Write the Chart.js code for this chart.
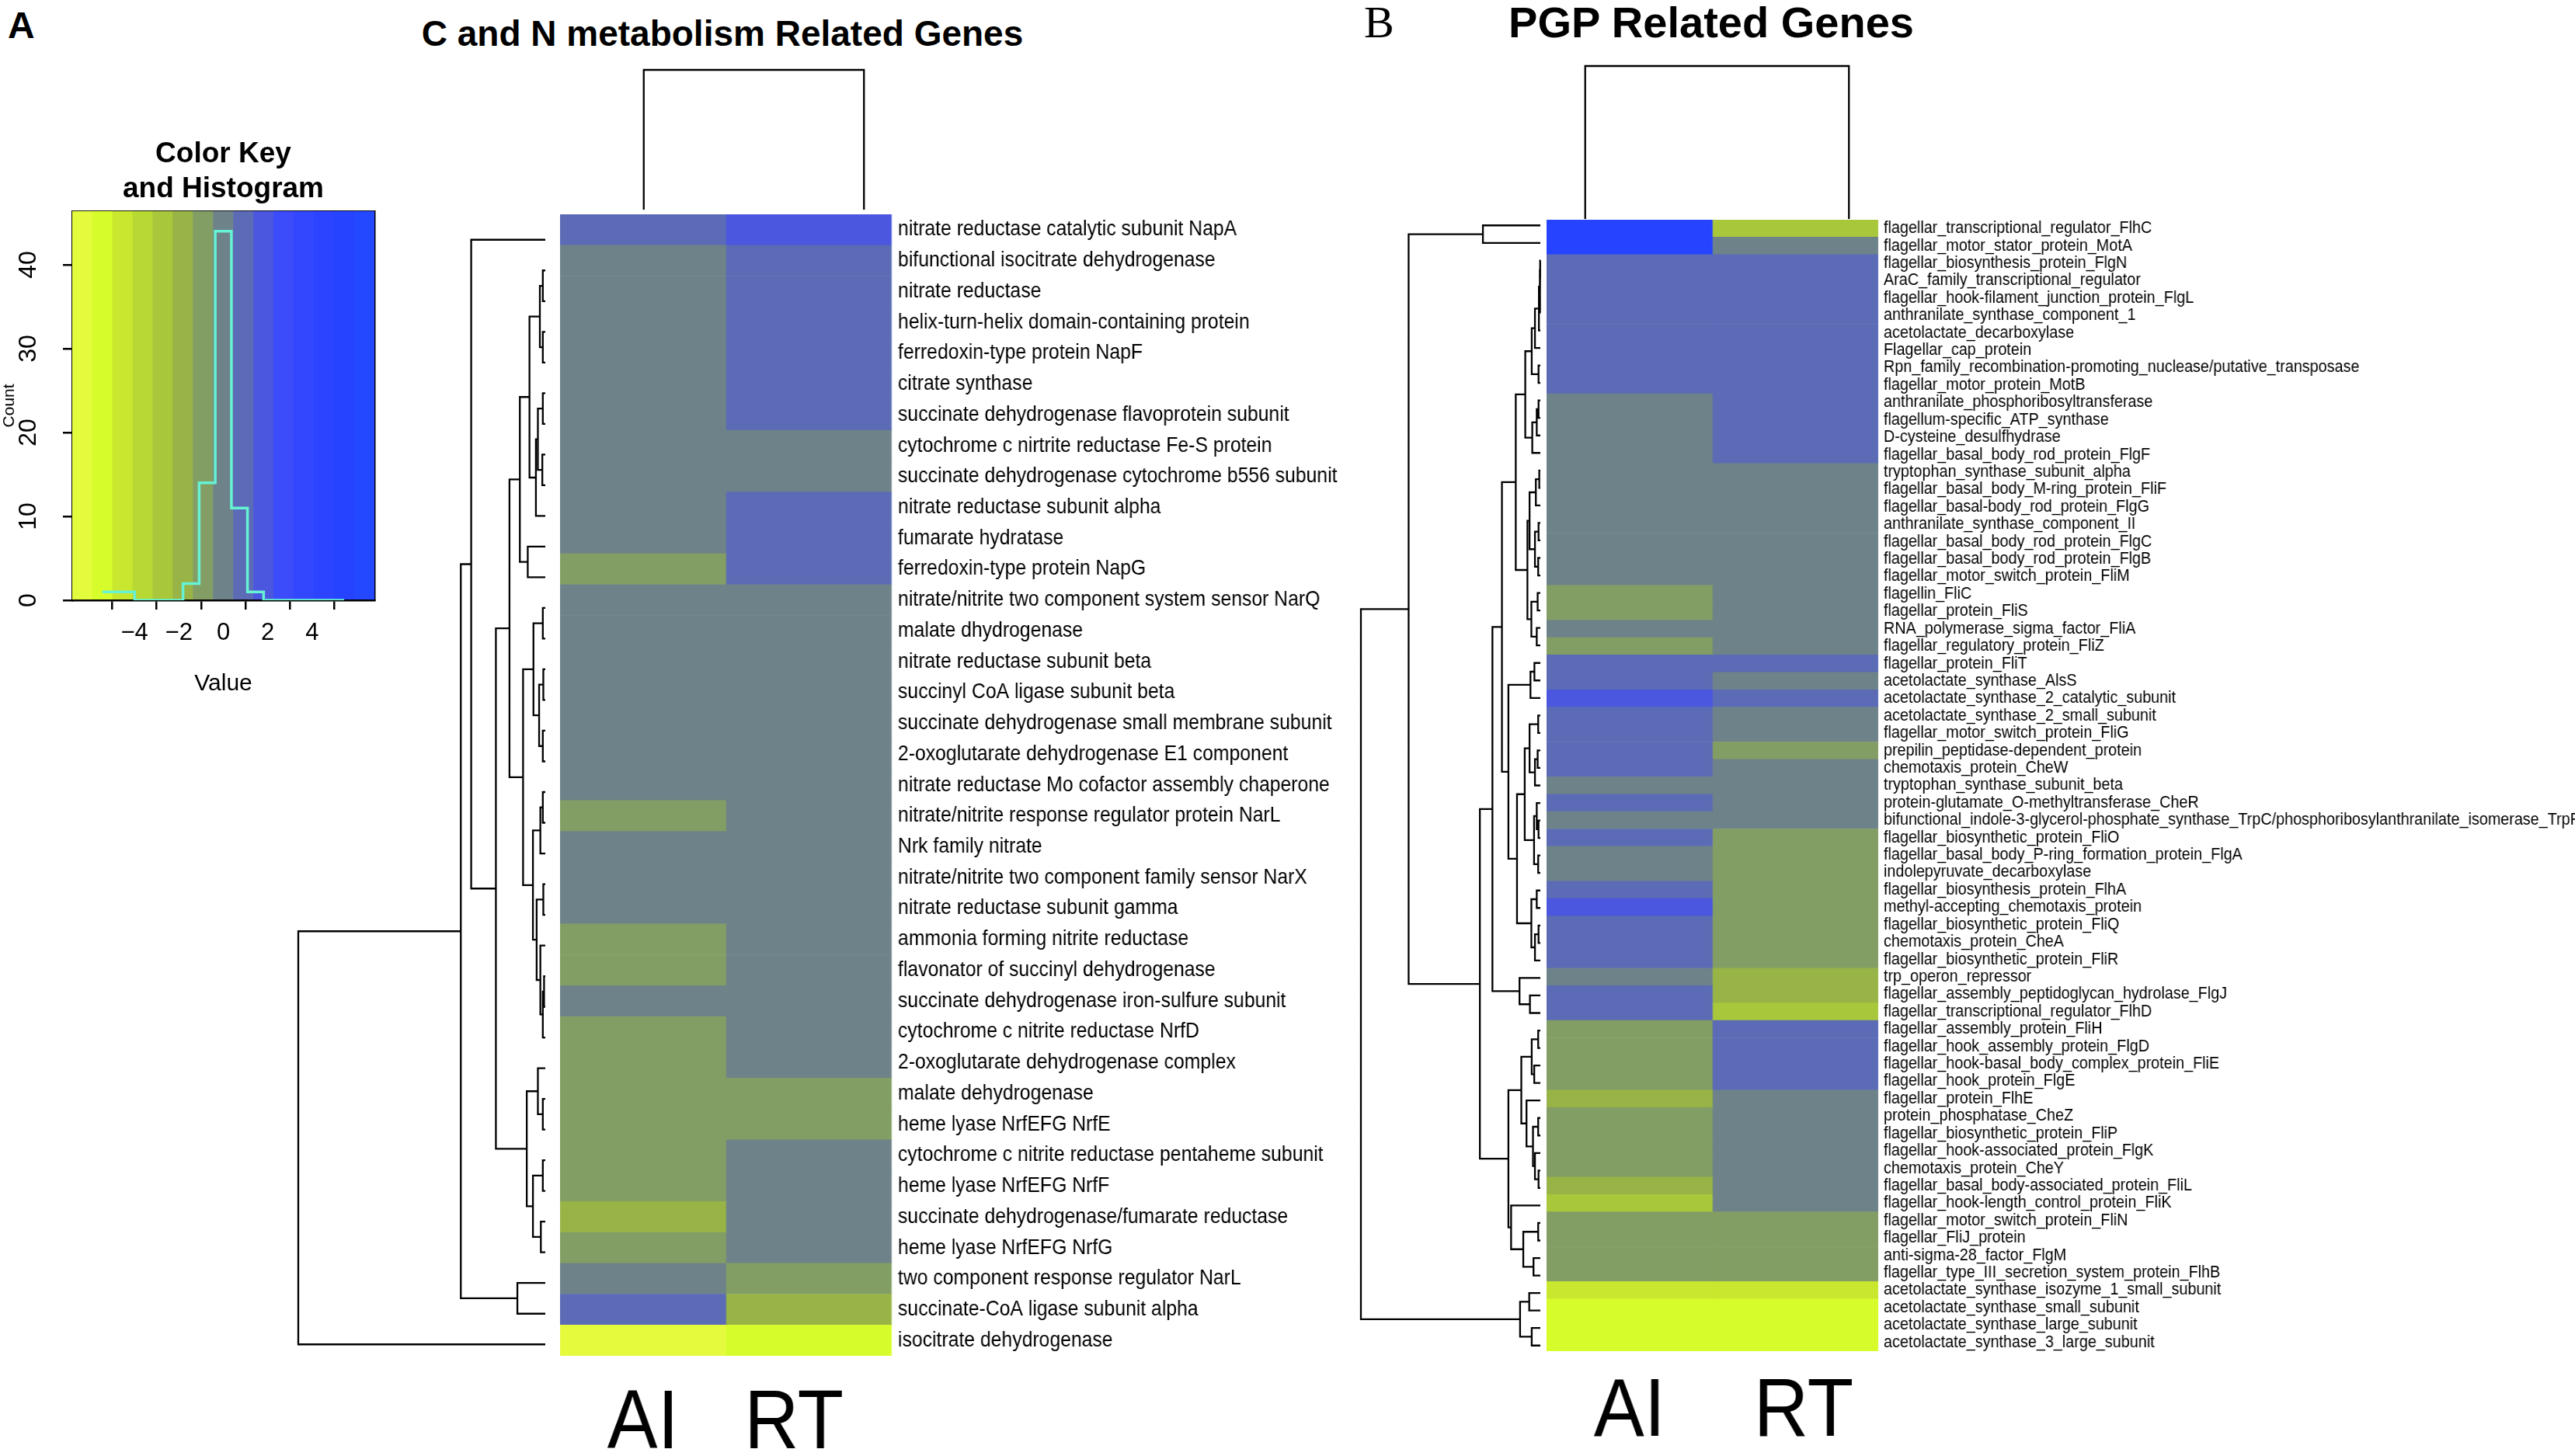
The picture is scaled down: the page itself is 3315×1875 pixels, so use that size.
<!DOCTYPE html>
<html>
<head>
<meta charset="utf-8">
<title>C and N metabolism / PGP Related Genes</title>
<script src="https://cdn.jsdelivr.net/npm/chart.js@4.4.1/dist/chart.umd.min.js"></script>
<style>
  html, body { margin: 0; padding: 0; background: #fff; }
  #page { position: relative; width: 3315px; height: 1875px; overflow: hidden; background: #fff; }
  #page canvas { position: absolute; }
  .lbl { position: absolute; white-space: nowrap; line-height: 1; color: #000; }
</style>
</head>
<body>
<div id="page">
  <div class="lbl" style="left:10px; top:5px; font:bold 48px 'Liberation Sans', Arial, sans-serif;">A</div>
  <div class="lbl" style="left:330px; top:16px; width:1200px; text-align:center; font:bold 46px 'Liberation Sans', Arial, sans-serif;">C and N metabolism Related Genes</div>
  <div class="lbl" style="left:1756px; top:-5px; font:58px 'Liberation Serif', 'Times New Roman', serif;">B</div>
  <div class="lbl" style="left:1703px; top:-4px; width:1000px; text-align:center; font:bold 56px 'Liberation Sans', Arial, sans-serif;">PGP Related Genes</div>
</div>
<script>
// ---- colour key: 15 breaks from yellow (low) to blue (high)
const keyBreaks = [-5.44, -4.715, -3.989, -3.264, -2.539, -1.813, -1.088, -0.363,
                   0.363, 1.088, 1.813, 2.539, 3.264, 3.989, 4.715, 5.44];
const keyColors = ['#e4fb3d', '#d6fd2b', '#c8e72e', '#b8d834', '#a9c73b', '#98b446', '#839e64',
                   '#6e8389', '#5b6bb6', '#4a57de', '#3c4cfb', '#3347ff', '#2c44ff', '#2644ff', '#2448ff'];
const keyXTicks = [-4, -2, 0, 2, 4];
const keyYTicks = [0, 10, 20, 30, 40];
const KEY_YMAX = 46.4;

const columns = ['AI', 'RT'];

// ---- panel A: C and N metabolism
const genesA = [
  'nitrate reductase catalytic subunit NapA',
  'bifunctional isocitrate dehydrogenase',
  'nitrate reductase',
  'helix-turn-helix domain-containing protein',
  'ferredoxin-type protein NapF',
  'citrate synthase',
  'succinate dehydrogenase flavoprotein subunit',
  'cytochrome c nirtrite reductase Fe-S protein',
  'succinate dehydrogenase cytochrome b556 subunit',
  'nitrate reductase subunit alpha',
  'fumarate hydratase',
  'ferredoxin-type protein NapG',
  'nitrate/nitrite two component system sensor NarQ',
  'malate dhydrogenase',
  'nitrate reductase subunit beta',
  'succinyl CoA ligase subunit beta',
  'succinate dehydrogenase small membrane subunit',
  '2-oxoglutarate dehydrogenase E1 component',
  'nitrate reductase Mo cofactor assembly chaperone',
  'nitrate/nitrite response regulator protein NarL',
  'Nrk family nitrate',
  'nitrate/nitrite two component family sensor NarX',
  'nitrate reductase subunit gamma',
  'ammonia forming nitrite reductase',
  'flavonator of succinyl dehydrogenase',
  'succinate dehydrogenase iron-sulfure subunit',
  'cytochrome c nitrite reductase NrfD',
  '2-oxoglutarate dehydrogenase complex',
  'malate dehydrogenase',
  'heme lyase NrfEFG NrfE',
  'cytochrome c nitrite reductase pentaheme subunit',
  'heme lyase NrfEFG NrfF',
  'succinate dehydrogenase/fumarate reductase',
  'heme lyase NrfEFG NrfG',
  'two component response regulator NarL',
  'succinate-CoA ligase subunit alpha',
  'isocitrate dehydrogenase'
];
const aiA = [0.78, 0.12, 0.05, 0.09, -0.04, 0.15, 0.02, 0.21, -0.1, 0.08, 0.18, -0.82, 0.03,
             -0.12, 0.06, 0.1, -0.2, 0.14, -0.07, -0.76, 0.01, -0.15, 0.11, -0.88, -0.79, 0.27,
             -0.85, -0.72, -0.9, -0.81, -0.77, -0.84, -1.55, -0.95, -0.06, 0.82, -4.95];
const rtA = [1.52, 0.85, 0.92, 0.77, 0.88, 0.81, 0.95, 0.04, -0.11, 0.79, 0.86, 0.9, 0.13,
             -0.02, 0.07, -0.18, 0.22, 0.05, -0.09, 0.16, -0.14, 0.02, 0.19, -0.23, 0.08, -0.3,
             0.11, 0.25, -0.83, -0.78, 0.06, -0.1, 0.17, 0.2, -0.8, -1.6, -4.3];
// row dendrogram: [height, left, right], leaves are row numbers
const treeA = [10,
  [3.42,
    [3.0, 1,
      [2.0,
        [1.45,
          [1.03,
            [0.64,
              [0.22, [0.1, 2, 3], [0.1, 4, 5]],
              [0.38, [0.3, [0.1, 6, 7], [0.12, 8, 9]], 10]],
            [0.71, 11, 12]],
          [0.9,
            [0.48, [0.1, 13, 14], [0.25, [0.08, 15, 16], [0.1, 17, 18]]],
            [0.5,
              [0.2, [0.1, 19, 20], 21],
              [0.35, [0.08, 22, 23], [0.2, 24, [0.1, [0.05, 25, 26], 27]]]]]],
        [0.75,
          [0.3, 28, [0.1, 29, 30]],
          [0.5, [0.1, 31, 32], [0.18, 33, 34]]]]],
    [1.13, 35, 36]],
  37];
const colTreeA = [1, 1, 2];

// ---- panel B: PGP related genes
const genesB = [
  'flagellar_transcriptional_regulator_FlhC',
  'flagellar_motor_stator_protein_MotA',
  'flagellar_biosynthesis_protein_FlgN',
  'AraC_family_transcriptional_regulator',
  'flagellar_hook-filament_junction_protein_FlgL',
  'anthranilate_synthase_component_1',
  'acetolactate_decarboxylase',
  'Flagellar_cap_protein',
  'Rpn_family_recombination-promoting_nuclease/putative_transposase',
  'flagellar_motor_protein_MotB',
  'anthranilate_phosphoribosyltransferase',
  'flagellum-specific_ATP_synthase',
  'D-cysteine_desulfhydrase',
  'flagellar_basal_body_rod_protein_FlgF',
  'tryptophan_synthase_subunit_alpha',
  'flagellar_basal_body_M-ring_protein_FliF',
  'flagellar_basal-body_rod_protein_FlgG',
  'anthranilate_synthase_component_II',
  'flagellar_basal_body_rod_protein_FlgC',
  'flagellar_basal_body_rod_protein_FlgB',
  'flagellar_motor_switch_protein_FliM',
  'flagellin_FliC',
  'flagellar_protein_FliS',
  'RNA_polymerase_sigma_factor_FliA',
  'flagellar_regulatory_protein_FliZ',
  'flagellar_protein_FliT',
  'acetolactate_synthase_AlsS',
  'acetolactate_synthase_2_catalytic_subunit',
  'acetolactate_synthase_2_small_subunit',
  'flagellar_motor_switch_protein_FliG',
  'prepilin_peptidase-dependent_protein',
  'chemotaxis_protein_CheW',
  'tryptophan_synthase_subunit_beta',
  'protein-glutamate_O-methyltransferase_CheR',
  'bifunctional_indole-3-glycerol-phosphate_synthase_TrpC/phosphoribosylanthranilate_isomerase_TrpF',
  'flagellar_biosynthetic_protein_FliO',
  'flagellar_basal_body_P-ring_formation_protein_FlgA',
  'indolepyruvate_decarboxylase',
  'flagellar_biosynthesis_protein_FlhA',
  'methyl-accepting_chemotaxis_protein',
  'flagellar_biosynthetic_protein_FliQ',
  'chemotaxis_protein_CheA',
  'flagellar_biosynthetic_protein_FliR',
  'trp_operon_repressor',
  'flagellar_assembly_peptidoglycan_hydrolase_FlgJ',
  'flagellar_transcriptional_regulator_FlhD',
  'flagellar_assembly_protein_FliH',
  'flagellar_hook_assembly_protein_FlgD',
  'flagellar_hook-basal_body_complex_protein_FliE',
  'flagellar_hook_protein_FlgE',
  'flagellar_protein_FlhE',
  'protein_phosphatase_CheZ',
  'flagellar_biosynthetic_protein_FliP',
  'flagellar_hook-associated_protein_FlgK',
  'chemotaxis_protein_CheY',
  'flagellar_basal_body-associated_protein_FliL',
  'flagellar_hook-length_control_protein_FliK',
  'flagellar_motor_switch_protein_FliN',
  'flagellar_FliJ_protein',
  'anti-sigma-28_factor_FlgM',
  'flagellar_type_III_secretion_system_protein_FlhB',
  'acetolactate_synthase_isozyme_1_small_subunit',
  'acetolactate_synthase_small_subunit',
  'acetolactate_synthase_large_subunit',
  'acetolactate_synthase_3_large_subunit'
];
const aiB = [4.3, 4.25,
  0.72, 0.68, 0.75, 0.7, 0.66, 0.8, 0.74, 0.69,
  0.05, -0.1, 0.12, 0.02,
  -0.08, 0.1, 0.04, -0.12, 0.07, 0.15, -0.03,
  -0.75, -0.8, 0.09, -0.72,
  0.71, 0.77, 1.45, 0.73, 0.8, 0.67, 0.76, 0.11, 0.78, -0.05, 0.7, 0.13, -0.09, 0.74, 1.5, 0.69, 0.72, 0.79,
  0.06, 0.71, 0.75,
  -0.78, -0.8, -0.74, -0.83, -1.6, -0.77, -0.85, -0.79, -0.76, -1.2, -2.1,
  -0.7, -0.72, -0.95, -0.9,
  -3.6, -4.4, -4.45, -4.38];
const rtB = [-2.2, 0.04,
  0.78, 0.7, 0.73, 0.8, 0.68, 0.75, 0.71, 0.77,
  0.74, 0.79, 0.7, 0.76,
  0.03, -0.06, 0.1, 0.08, -0.11, 0.02, 0.14,
  0.06, -0.04, 0.12, 0.09,
  0.7, 0.1, 0.8, 0.05, -0.07, -0.78, 0.13, 0.02, 0.08, -0.1, -0.82, -0.76, -0.79, -0.73, -0.81, -0.77, -0.84, -0.8,
  -1.4, -1.45, -2.15,
  0.75, 0.72, 0.78, 0.7,
  0.1, 0.04, -0.02, 0.07, 0.12, 0.03, 0.09,
  -0.7, -0.74, -0.71, -0.73,
  -3.62, -4.42, -4.4, -4.47];
const treeB = [10,
  [7.34,
    [3.2, 1, 2],
    [3.37,
      [2.67,
        [2.14,
          [1.37,
            [0.84,
              [0.48, [0.3, [0.08, [0.03, [0.01, 3, 4], [0.02, 5, 6]], 7], 8], [0.1, 9, 10]],
              [0.45, [0.2, [0.1, 11, 12], 13], 14]],
            [0.72,
              [0.6, [0.25, [0.06, 15, 16], 17], [0.3, [0.1, 18, 19], [0.12, 20, 21]]],
              [0.5, [0.15, 22, 23], [0.2, 24, 25]]]],
          [1.78,
            [0.55, [0.33, 26, 27], 28],
            [1.3,
              [0.87,
                [0.6, [0.12, 29, 30], [0.3, [0.15, 31, 32], 33]],
                [0.35, [0.2, 34, [0.1, 35, 36]], [0.12, 37, 38]]],
              [0.5, [0.2, 39, 40], [0.3, [0.1, 41, 42], 43]]]]],
        [1.16, 44, [0.58, 45, 46]]],
      [1.78,
        [1.06,
          [0.48, [0.12, 47, 48], [0.34, 49, 50]],
          [0.77, 51, [0.41, [0.12, 52, 53], [0.3, 54, [0.1, 55, 56]]]]],
        [1.63, 57, [0.95, [0.12, 58, 59], [0.38, 60, 61]]]]]],
  [1.13, [0.62, 62, 63], [0.48, 64, 65]]];
const colTreeB = [1, 1, 2];

// ---- helpers
const SANS = "'Liberation Sans', Arial, sans-serif";
Chart.defaults.font.family = SANS;
Chart.defaults.color = '#000';

function colorFor(v) {
  for (let i = 0; i < keyColors.length; i++) {
    if (v < keyBreaks[i + 1]) return keyColors[i];
  }
  return keyColors[keyColors.length - 1];
}

// squeeze < 1 narrows the drawing horizontally (condensed text like the original)
function mk(left, top, w, h, squeeze) {
  const k = squeeze || 1;
  const c = document.createElement('canvas');
  c.width = Math.round(w / k); c.height = h;
  c.style.left = left + 'px'; c.style.top = top + 'px';
  c.style.width = Math.round(w / k) + 'px'; c.style.height = h + 'px';
  if (k !== 1) { c.style.transform = 'scaleX(' + k + ')'; c.style.transformOrigin = '0 0'; }
  document.getElementById('page').appendChild(c);
  return c;
}

function noPad(s) { s.paddingLeft = 0; s.paddingRight = 0; s.paddingTop = 0; s.paddingBottom = 0; }

// turn a [h, left, right] tree into line segments (gaps between nodes)
function dendroPoints(tree, horizontal) {
  const pts = [];
  (function walk(n) {
    if (typeof n === 'number') return { p: n, h: 0 };
    const a = walk(n[1]), b = walk(n[2]);
    [[a.h, a.p], [n[0], a.p], [n[0], b.p], [b.h, b.p]].forEach(([hh, pp]) => {
      pts.push(horizontal ? { x: hh, y: pp } : { x: pp, y: hh });
    });
    pts.push({ x: null, y: null });
    return { p: (a.p + b.p) / 2, h: n[0] };
  })(tree);
  return pts;
}

const base = {
  responsive: false, animation: false, events: [],
  plugins: { legend: { display: false }, tooltip: { enabled: false } }
};

function dendroChart(canvas, tree, nLeaves, horizontal) {
  const hMax = tree[0];
  new Chart(canvas, {
    type: 'scatter',
    data: { datasets: [{
      data: dendroPoints(tree, horizontal), showLine: true, spanGaps: false,
      borderColor: '#000', borderWidth: 2.3, pointRadius: 0, clip: false
    }] },
    options: Object.assign({}, base, {
      layout: { padding: 4 },
      scales: horizontal ? {
        x: { type: 'linear', display: false, min: 0, max: hMax, reverse: true },
        y: { type: 'linear', display: false, min: 0.5, max: nLeaves + 0.5, reverse: true }
      } : {
        x: { type: 'linear', display: false, min: 0.5, max: nLeaves + 0.5 },
        y: { type: 'linear', display: false, min: 0, max: hMax }
      }
    })
  });
}

function heatmapChart(canvas, genes, ai, rt, o) {
  const k = o.squeeze || 1;
  const cell = { barPercentage: 1, categoryPercentage: 1, borderWidth: 0 };
  new Chart(canvas, {
    type: 'bar',
    data: {
      labels: genes,
      datasets: [
        Object.assign({ label: columns[0], data: ai.map(() => 1), backgroundColor: ai.map(colorFor) }, cell),
        Object.assign({ label: columns[1], data: rt.map(() => 1), backgroundColor: rt.map(colorFor) }, cell)
      ]
    },
    options: Object.assign({}, base, {
      indexAxis: 'y',
      layout: { padding: 0 },
      scales: {
        x: {
          type: 'linear', stacked: true, min: 0, max: 2, position: 'bottom',
          grid: { display: false, drawTicks: false }, border: { display: false },
          afterBuildTicks: s => { s.ticks = o.colTicks.map(v => ({ value: v })); },
          ticks: { font: { size: o.colFont }, color: '#000', padding: o.colPad,
                   callback: (v, i) => columns[i] },
          afterFit: s => { s.height = o.bottomH; noPad(s); }
        },
        y: {
          type: 'category', stacked: true, position: 'right',
          grid: { display: false, drawTicks: false }, border: { display: false },
          ticks: { autoSkip: false, font: { size: o.labelSize }, color: '#000', padding: o.labelPad / k },
          afterFit: s => { s.width = canvas.width - o.plotW / k; noPad(s); }
        }
      }
    })
  });
}

// ---- colour key and histogram (cells of panel A)
const allA = aiA.concat(rtA);
const keyCounts = keyColors.map((_, i) =>
  allA.filter(v => v >= keyBreaks[i] && v < keyBreaks[i + 1]).length);
const histPts = keyBreaks.map((b, i) => ({ x: b, y: keyCounts[Math.min(i, keyCounts.length - 1)] }));

const boxAxis = {
  display: true, min: 0, max: 1,
  ticks: { display: false }, grid: { display: false, drawTicks: false },
  border: { display: true, color: '#000', width: 2.5 }
};
const tickGrid = { display: true, drawOnChartArea: false, drawTicks: true, tickLength: 12, color: '#000', lineWidth: 2.5 };

new Chart(mk(0, 140, 560, 768), {
  type: 'bar',
  data: {
    labels: keyColors.map((_, i) => String(i)),
    datasets: [
      { type: 'line', data: histPts, xAxisID: 'x', yAxisID: 'y', stepped: true,
        borderColor: '#66f2d4', borderWidth: 3.5, pointRadius: 0, fill: false, order: 0 },
      { type: 'bar', data: keyColors.map(() => KEY_YMAX), backgroundColor: keyColors, grouped: false,
        xAxisID: 'xb', yAxisID: 'y', barPercentage: 1, categoryPercentage: 1, borderWidth: 0, order: 1 }
    ]
  },
  options: Object.assign({}, base, {
    layout: { padding: { right: 78 } },
    plugins: {
      legend: { display: false }, tooltip: { enabled: false },
      title: { display: true, fullSize: false, text: ['Color Key', 'and Histogram'], color: '#000',
               font: { size: 37, weight: 'bold', lineHeight: 1.2 }, padding: { top: 37, bottom: 6 } }
    },
    scales: {
      xb: { type: 'category', display: false, offset: true },
      x: {
        type: 'linear', position: 'bottom', min: keyBreaks[0], max: keyBreaks[keyBreaks.length - 1],
        afterBuildTicks: s => { s.ticks = keyXTicks.map(v => ({ value: v })); },
        ticks: { font: { size: 31 }, color: '#000', padding: 12,
                 callback: v => String(v).replace('-', '\u2212') },
        grid: tickGrid, border: { display: true, color: '#000', width: 2.5 },
        title: { display: true, text: 'Value', color: '#000', font: { size: 30 }, padding: { top: 0, bottom: 9 } },
        afterFit: s => { s.height = 135; noPad(s); }
      },
      x2: Object.assign({ type: 'linear', position: 'top', afterFit: s => { s.height = 0; noPad(s); } }, boxAxis),
      y: {
        type: 'linear', position: 'left', min: 0, max: KEY_YMAX,
        afterBuildTicks: s => { s.ticks = keyYTicks.map(v => ({ value: v })); },
        ticks: { font: { size: 32 }, color: '#000', padding: 26, minRotation: 90, maxRotation: 90, crossAlign: 'center' },
        grid: tickGrid, border: { display: true, color: '#000', width: 2.5 },
        title: { display: true, text: 'Count', color: '#000', font: { size: 21 }, padding: 0 },
        afterFit: s => { s.width = 93; noPad(s); }
      },
      y2: Object.assign({ type: 'linear', position: 'right', afterFit: s => { s.width = 0; noPad(s); } }, boxAxis)
    }
  })
});

// ---- panel A
dendroChart(mk(380, 285, 326, 1470), treeA, genesA.length, true);
dendroChart(mk(683, 86, 575, 188), colTreeA, columns.length, false);
heatmapChart(mk(721, 276, 1150, 1599, 0.9), genesA, aiA, rtA, {
  squeeze: 0.9, plotW: 427, colTicks: [0.5, 1.41], colFont: 108, colPad: 24, bottomH: 129,
  labelSize: 27.5, labelPad: 8
});

// ---- panel B
dendroChart(mk(1748, 275, 239, 1473), treeB, genesB.length, true);
dendroChart(mk(1867, 81, 687, 205), colTreeB, columns.length, false);
heatmapChart(mk(1991, 283, 1324, 1592, 0.92), genesB, aiB, rtB, {
  squeeze: 0.92, plotW: 427, colTicks: [0.5, 1.55], colFont: 106, colPad: 16, bottomH: 135,
  labelSize: 21.5, labelPad: 7
});
</script>
</body>
</html>
